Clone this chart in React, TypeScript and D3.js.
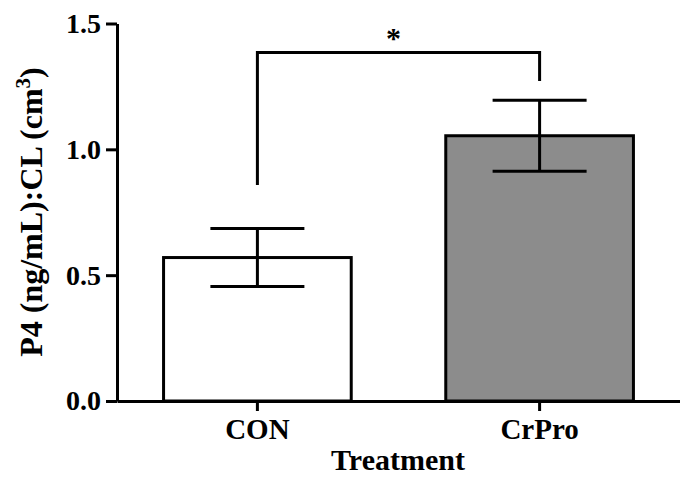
import React, { useEffect, useRef } from "react";
import * as d3 from "d3";

const categories = ["CON", "CrPro"];
const means = [0.57, 1.054];
const sems = [0.115, 0.141];
const fills = ["#ffffff", "#8c8c8c"];
const yTicks = [0, 0.5, 1.0, 1.5];
const bracketLeftBottom = 0.858;
const bracketTop = 1.385;
const bracketRightBottom = 1.272;
const sigLabel = "*";

const W = 680;
const H = 477;
const FONT = "'Liberation Serif', 'Times New Roman', serif";

export default function App() {
  const yAxisRef = useRef<SVGGElement>(null);
  const xAxisRef = useRef<SVGGElement>(null);

  const y = d3.scaleLinear().domain([0, 1.5]).range([401, 23.5]);
  const x = d3
    .scaleBand<string>()
    .domain(categories)
    .range([117, 680])
    .paddingInner(0.335)
    .paddingOuter(0.165);
  const bw = x.bandwidth();
  const cx = (c: string) => (x(c) as number) + bw / 2;

  useEffect(() => {
    if (yAxisRef.current) {
      const g = d3.select(yAxisRef.current);
      g.selectAll("*").remove();
      g.call(
        d3
          .axisLeft(y)
          .tickValues(yTicks)
          .tickFormat(d3.format(".1f"))
          .tickSize(11)
          .tickPadding(5)
          .tickSizeOuter(0)
      );
      g.select(".domain").attr("stroke", "#000").attr("stroke-width", 3);
      g.selectAll(".tick line").attr("stroke", "#000").attr("stroke-width", 3);
      g.selectAll(".tick text")
        .attr("fill", "#000")
        .style("font-family", FONT)
        .style("font-weight", "bold")
        .style("font-size", "28px");
    }
    if (xAxisRef.current) {
      const g = d3.select(xAxisRef.current);
      g.selectAll("*").remove();
      g.call(
        d3.axisBottom(x).tickSize(10).tickPadding(7).tickSizeOuter(0)
      );
      g.select(".domain").attr("stroke", "#000").attr("stroke-width", 3);
      g.selectAll(".tick line").attr("stroke", "#000").attr("stroke-width", 3);
      g.selectAll(".tick text")
        .attr("fill", "#000")
        .style("font-family", FONT)
        .style("font-weight", "bold")
        .style("font-size", "29px");
    }
  });

  const capHalf = 47;
  const xl = cx(categories[0]);
  const xr = cx(categories[1]);

  return (
    <svg
      width={W}
      height={H}
      style={{ position: "absolute", left: 0, top: 0, background: "#fff" }}
    >
      {categories.map((c, i) => (
        <rect
          key={c}
          x={x(c)}
          y={y(means[i])}
          width={bw}
          height={y(0) - y(means[i])}
          fill={fills[i]}
          stroke="#000"
          strokeWidth={3}
        />
      ))}
      {categories.map((c, i) => (
        <g key={c + "err"} stroke="#000" strokeWidth={3}>
          <line x1={cx(c)} x2={cx(c)} y1={y(means[i] - sems[i])} y2={y(means[i] + sems[i])} />
          <line x1={cx(c) - capHalf} x2={cx(c) + capHalf} y1={y(means[i] + sems[i])} y2={y(means[i] + sems[i])} />
          <line x1={cx(c) - capHalf} x2={cx(c) + capHalf} y1={y(means[i] - sems[i])} y2={y(means[i] - sems[i])} />
        </g>
      ))}
      <path
        d={`M${xl},${y(bracketLeftBottom)}V${y(bracketTop)}H${xr}V${y(bracketRightBottom)}`}
        fill="none"
        stroke="#000"
        strokeWidth={3}
      />
      <text
        x={(xl + xr) / 2 - 5}
        y={y(bracketTop) - 4}
        textAnchor="middle"
        fontFamily={FONT}
        fontWeight="bold"
        fontSize={30}
      >
        {sigLabel}
      </text>
      <g ref={yAxisRef} transform="translate(117,0)" />
      <g ref={xAxisRef} transform="translate(0,401)" />
      <text
        x={398}
        y={470}
        textAnchor="middle"
        fontFamily={FONT}
        fontWeight="bold"
        fontSize={30}
      >
        Treatment
      </text>
      <text
        transform="translate(42,212) rotate(-90)"
        textAnchor="middle"
        fontFamily={FONT}
        fontWeight="bold"
        fontSize={32}
      >
        P4 (ng/mL):CL (cm<tspan dy={-12} fontSize={21}>3</tspan>
        <tspan dy={12}>)</tspan>
      </text>
    </svg>
  );
}
